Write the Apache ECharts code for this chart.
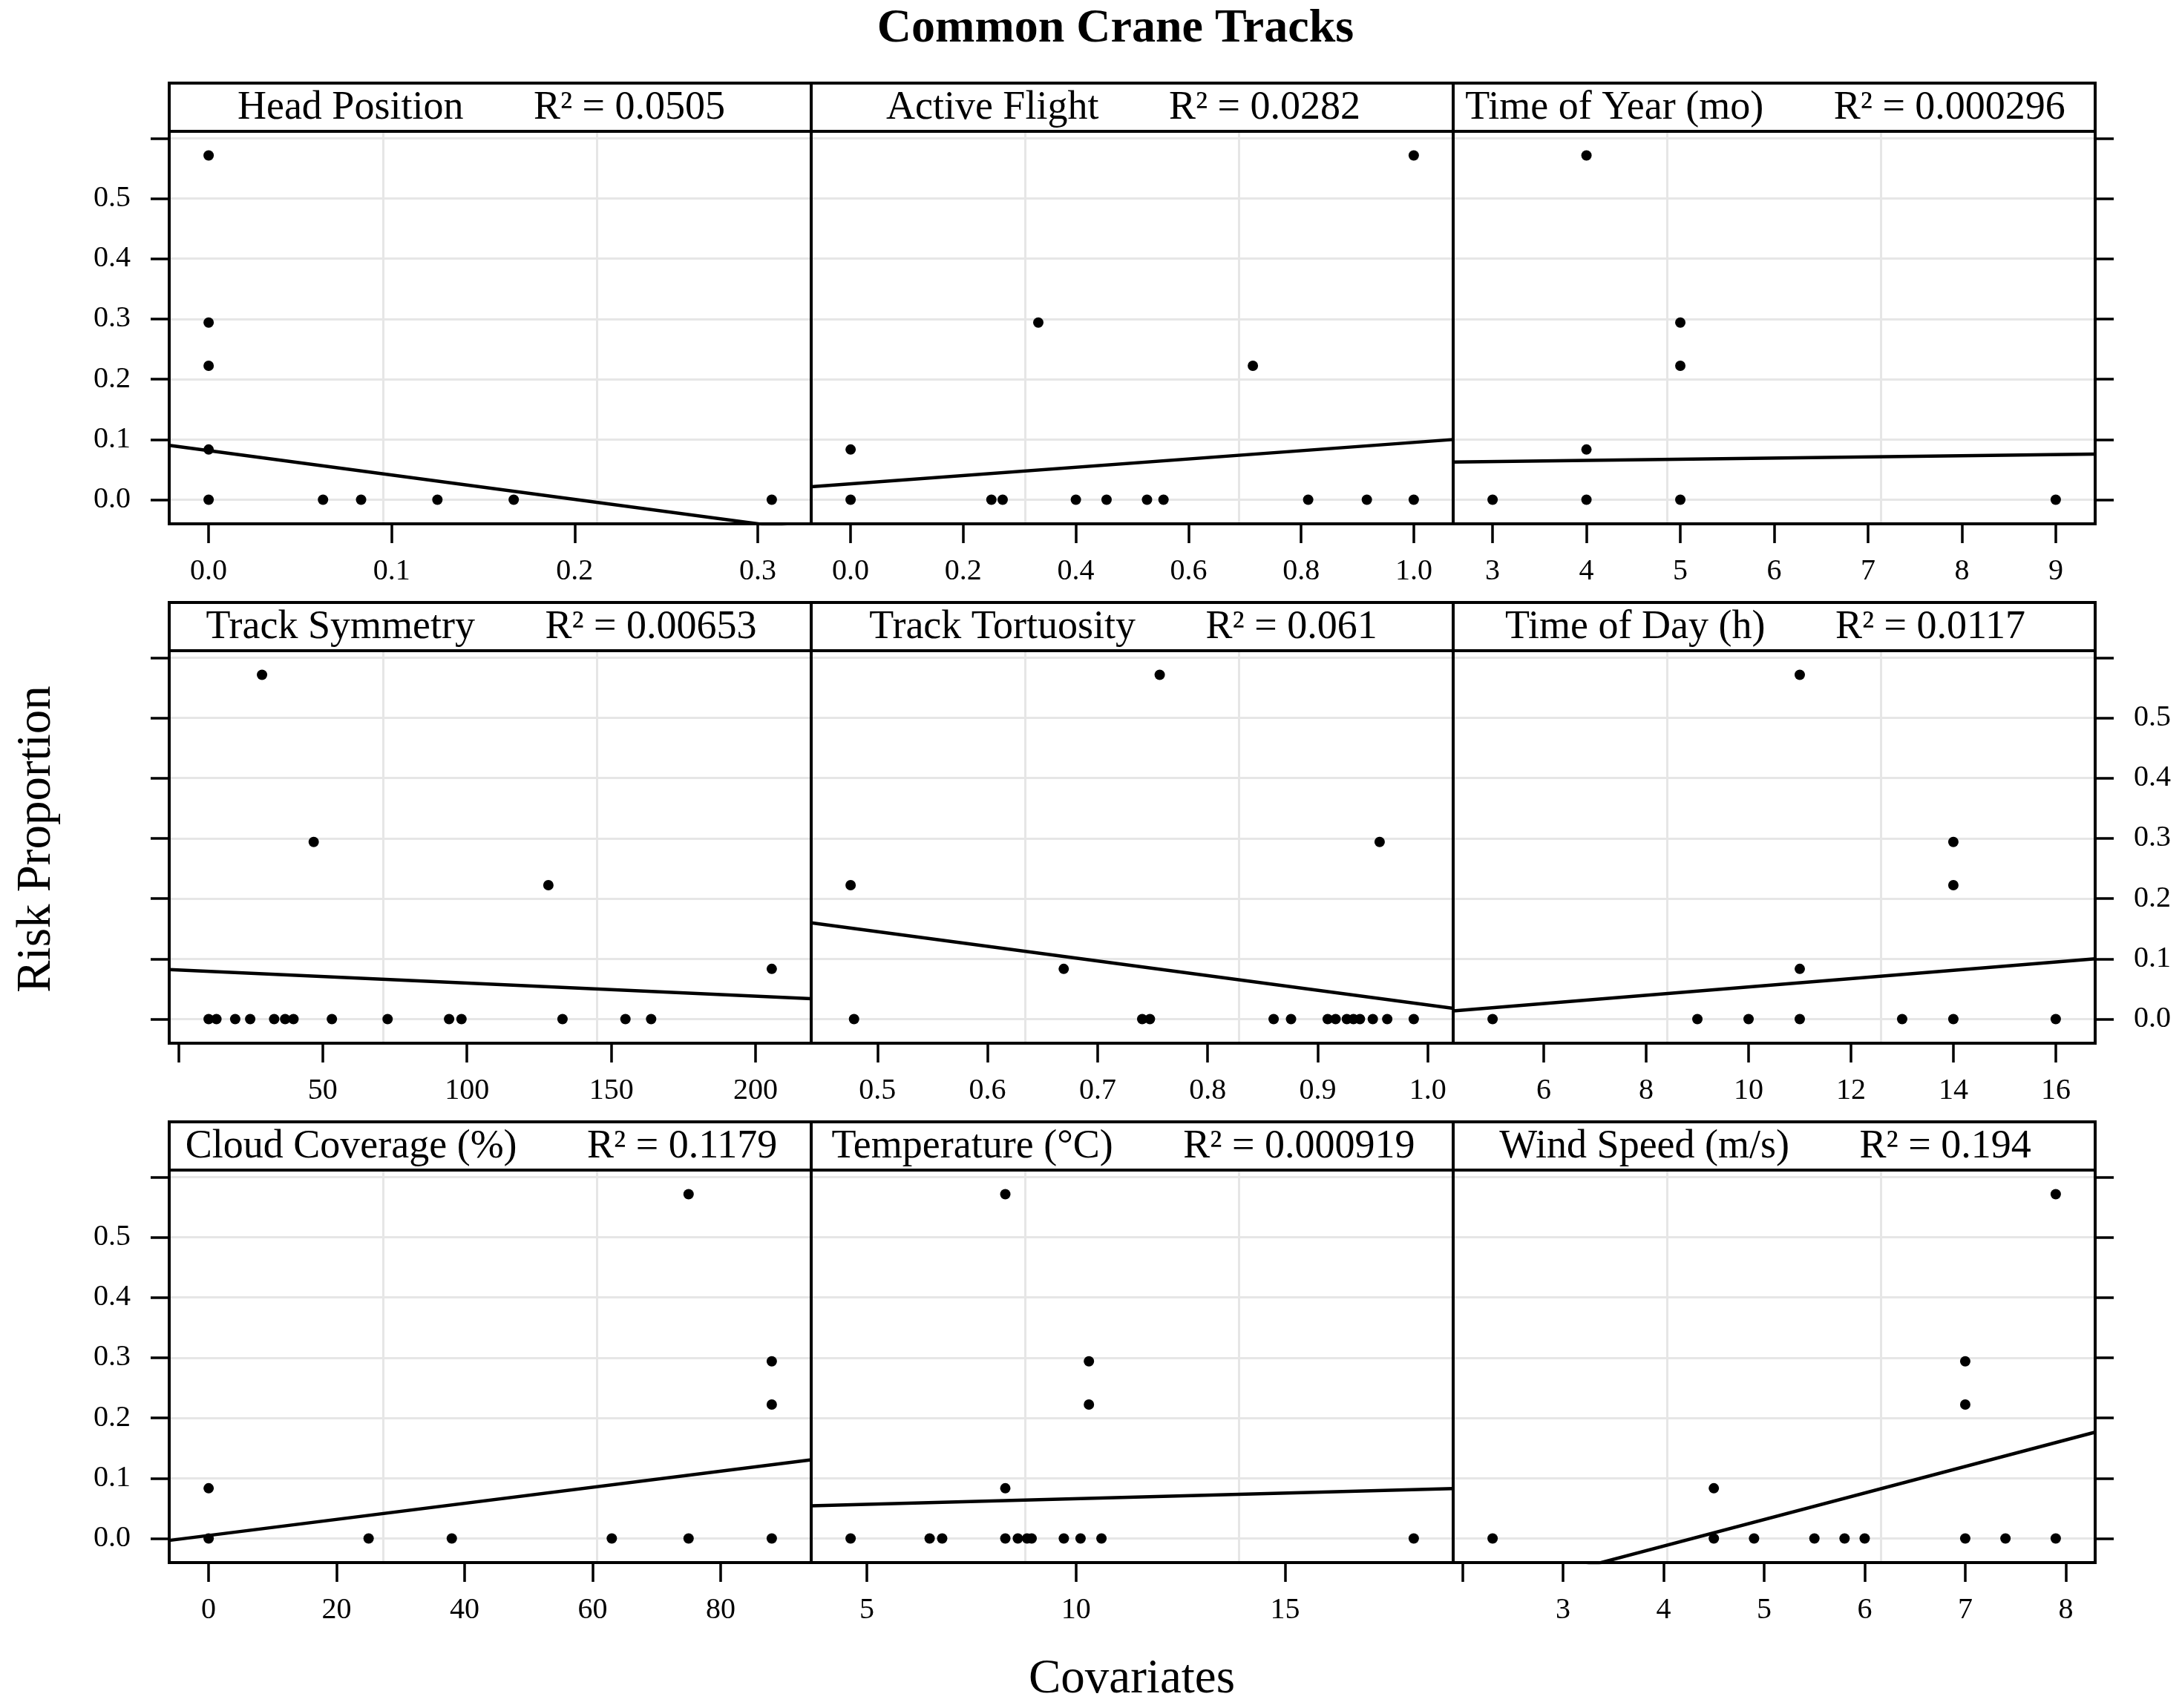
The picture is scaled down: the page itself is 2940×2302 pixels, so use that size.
<!DOCTYPE html>
<html>
<head>
<meta charset="utf-8">
<script src="https://cdn.jsdelivr.net/npm/echarts@6/dist/echarts.min.js"></script>
<style>html,body{margin:0;padding:0;background:#fff}#c{width:2940px;height:2302px}</style>
</head>
<body>
<div id="c"></div>
<script>
// ---------------- DATA ----------------
const chartTitle = 'Common Crane Tracks';
const yAxisTitle = 'Risk Proportion';
const xAxisTitle = 'Covariates';

const panelTitles = ['Head Position', 'Active Flight', 'Time of Year (mo)',
  'Track Symmetry', 'Track Tortuosity', 'Time of Day (h)',
  'Cloud Coverage (%)', 'Temperature (°C)', 'Wind Speed (m/s)'];
const rSquaredText = ['0.0505', '0.0282', '0.000296', '0.00653', '0.061', '0.0117', '0.1179', '0.000919', '0.194'];

const headPositionX = [0, 0, 0, 0, 0, 0.0625, 0.0833, 0.125, 0.1667, 0.3077];
const headPositionY = [0.5714, 0.2941, 0.2222, 0.0833, 0, 0, 0, 0, 0, 0];

const activeFlightX = [1.0, 0.3333, 0.7143, 0, 0, 0.25, 0.27, 0.4, 0.4545, 0.5263, 0.5556, 0.8125, 0.9167, 1.0];
const activeFlightY = [0.5714, 0.2941, 0.2222, 0.0833, 0, 0, 0, 0, 0, 0, 0, 0, 0, 0];

const timeOfYearX = [4, 5, 5, 4, 3, 4, 5, 9];
const timeOfYearY = [0.5714, 0.2941, 0.2222, 0.0833, 0, 0, 0, 0];

const trackSymmetryX = [29.0, 46.9, 128.2, 205.6, 10.5, 13.2, 19.7, 24.9, 33.2, 37.0, 39.9, 53.2, 72.5, 93.8, 98.1, 133.1, 154.9, 163.8];
const trackSymmetryY = [0.5714, 0.2941, 0.2222, 0.0833, 0, 0, 0, 0, 0, 0, 0, 0, 0, 0, 0, 0, 0, 0];

const trackTortuosityX = [0.7564, 0.9562, 0.4756, 0.6692, 0.4787, 0.7405, 0.7475, 0.8599, 0.8757, 0.909, 0.9162, 0.9264, 0.9324, 0.9383, 0.95, 0.9631, 0.9872];
const trackTortuosityY = [0.5714, 0.2941, 0.2222, 0.0833, 0, 0, 0, 0, 0, 0, 0, 0, 0, 0, 0, 0, 0];

const timeOfDayX = [11, 14, 14, 11, 5, 9, 10, 11, 13, 14, 16];
const timeOfDayY = [0.5714, 0.2941, 0.2222, 0.0833, 0, 0, 0, 0, 0, 0, 0];

const cloudCoverageX = [75, 88, 88, 0, 0, 25, 38, 63, 75, 88];
const cloudCoverageY = [0.5714, 0.2941, 0.2222, 0.0833, 0, 0, 0, 0, 0, 0];

const temperatureX = [8.31, 10.31, 10.31, 8.31, 4.61, 6.5, 6.8, 8.31, 8.61, 8.83, 8.94, 9.71, 10.11, 10.61, 18.08];
const temperatureY = [0.5714, 0.2941, 0.2222, 0.0833, 0, 0, 0, 0, 0, 0, 0, 0, 0, 0, 0];

const windSpeedX = [7.9, 7, 7, 4.5, 2.3, 4.5, 4.9, 5.5, 5.8, 6.0, 7.0, 7.4, 7.9];
const windSpeedY = [0.5714, 0.2941, 0.2222, 0.0833, 0, 0, 0, 0, 0, 0, 0, 0, 0];

// fitted regression lines
const fitIntercept = [0.0816, 0.0263, 0.0576, 0.0816, 0.2669, -0.0157, 0.0050, 0.0473, -0.1888];
const fitSlope = [-0.405, 0.0688, 0.00194, -0.000218, -0.2435, 0.0069, 0.001334, 0.001865, 0.04404];

// tick values and labelled ticks
const yTicks = [0, 0.1, 0.2, 0.3, 0.4, 0.5, 0.6];
const yTickLabels = [0, 0.1, 0.2, 0.3, 0.4, 0.5];
const headPositionTicks = [0, 0.1, 0.2, 0.3];
const activeFlightTicks = [0, 0.2, 0.4, 0.6, 0.8, 1.0];
const timeOfYearTicks = [3, 4, 5, 6, 7, 8, 9];
const trackSymmetryTicks = [0, 50, 100, 150, 200];
const trackSymmetryLabels = [50, 100, 150, 200];
const trackTortuosityTicks = [0.5, 0.6, 0.7, 0.8, 0.9, 1.0];
const timeOfDayTicks = [6, 8, 10, 12, 14, 16];
const cloudCoverageTicks = [0, 20, 40, 60, 80];
const temperatureTicks = [5, 10, 15];
const windSpeedTicks = [2, 3, 4, 5, 6, 7, 8];
const windSpeedLabels = [3, 4, 5, 6, 7, 8];

// ---------------- BUILD ----------------
const panelX = [headPositionX, activeFlightX, timeOfYearX, trackSymmetryX, trackTortuosityX, timeOfDayX, cloudCoverageX, temperatureX, windSpeedX];
const panelY = [headPositionY, activeFlightY, timeOfYearY, trackSymmetryY, trackTortuosityY, timeOfDayY, cloudCoverageY, temperatureY, windSpeedY];
const panelTicks = [headPositionTicks, activeFlightTicks, timeOfYearTicks, trackSymmetryTicks, trackTortuosityTicks, timeOfDayTicks, cloudCoverageTicks, temperatureTicks, windSpeedTicks];
const panelLabels = [headPositionTicks, activeFlightTicks, timeOfYearTicks, trackSymmetryLabels, trackTortuosityTicks, timeOfDayTicks, cloudCoverageTicks, temperatureTicks, windSpeedLabels];
const labelDecimals = [1, 1, 0, 0, 1, 0, 0, 0, 0];

const FONT = '"Liberation Serif", "Times New Roman", serif';
const colLeft = [228, 1093, 1958];
const stripTop = [112, 812, 1512];
const PW = 865, SH = 65, PH = 529;

function padRange(arr) {
  const lo = Math.min.apply(null, arr), hi = Math.max.apply(null, arr);
  const p = (hi - lo) * 0.07;
  return [lo - p, hi + p];
}
const allY = [].concat.apply([], panelY);
const yRange = padRange(allY);

const grids = [], xAxes = [], yAxes = [], series = [], graphics = [];
for (let i = 0; i < 9; i++) {
  const row = Math.floor(i / 3), col = i % 3;
  const left = colLeft[col], top = stripTop[row] + SH;
  grids.push({left: left, top: top, width: PW, height: PH, show: false, containLabel: false});
  const xr = padRange(panelX[i]);
  const dec = labelDecimals[i];
  const ticks = panelTicks[i];
  // main x axis
  xAxes.push({
    type: 'value', gridIndex: i, position: 'bottom', min: xr[0], max: xr[1],
    axisLine: {show: false, onZero: false},
    axisTick: {show: true, inside: false, length: 26, lineStyle: {color: '#000', width: 3.5}, customValues: ticks},
    axisLabel: {show: true, inside: false, customValues: panelLabels[i], margin: 44, color: '#000',
      fontFamily: FONT, fontSize: 40, formatter: v => Number(v).toFixed(dec)},
    splitLine: {show: false}
  });
  // vertical grid lines at thirds
  xAxes.push({
    type: 'value', gridIndex: i, position: 'top', min: 0, max: 3, interval: 1,
    axisLine: {show: false, onZero: false}, axisTick: {show: false}, axisLabel: {show: false},
    splitLine: {show: true, lineStyle: {color: '#e6e6e6', width: 3}}
  });
  // left y axis
  yAxes.push({
    type: 'value', gridIndex: i, position: 'left', min: yRange[0], max: yRange[1],
    axisLine: {show: false, onZero: false},
    axisTick: {show: col === 0, inside: false, length: 25, lineStyle: {color: '#000', width: 3.5}, customValues: yTicks},
    axisLabel: {show: col === 0 && row !== 1, inside: false, customValues: yTickLabels, margin: 52, color: '#000',
      fontFamily: FONT, fontSize: 40, formatter: v => Number(v).toFixed(1)},
    splitLine: {show: true, lineStyle: {color: '#e6e6e6', width: 3}}
  });
  // right y axis
  yAxes.push({
    type: 'value', gridIndex: i, position: 'right', min: yRange[0], max: yRange[1],
    axisLine: {show: false, onZero: false},
    axisTick: {show: col === 2, inside: false, length: 25, lineStyle: {color: '#000', width: 3.5}, customValues: yTicks},
    axisLabel: {show: col === 2 && row === 1, inside: false, customValues: yTickLabels, margin: 52, color: '#000',
      fontFamily: FONT, fontSize: 40, formatter: v => Number(v).toFixed(1)},
    splitLine: {show: false}
  });
  const pts = panelX[i].map((x, k) => [x, panelY[i][k]]);
  series.push({
    type: 'scatter', xAxisIndex: 2 * i, yAxisIndex: 2 * i, data: pts,
    symbol: 'circle', symbolSize: 14, itemStyle: {color: '#000', opacity: 1}, silent: true, z: 3
  });
  series.push({
    type: 'line', xAxisIndex: 2 * i, yAxisIndex: 2 * i, clip: true,
    data: [[xr[0], fitIntercept[i] + fitSlope[i] * xr[0]], [xr[1], fitIntercept[i] + fitSlope[i] * xr[1]]],
    symbol: 'none', lineStyle: {color: '#000', width: 4.5, opacity: 1}, silent: true, z: 4
  });
  // strip
  graphics.push({type: 'rect', shape: {x: left, y: stripTop[row], width: PW, height: SH},
    style: {fill: '#fff', stroke: '#000', lineWidth: 4}, z: 50});
  graphics.push({type: 'text', x: left + PW / 2 - 12, y: stripTop[row] + SH / 2 + 1, z: 51,
    style: {text: panelTitles[i] + '       R\u00b2 = ' + rSquaredText[i], fill: '#000',
      font: '54px ' + FONT, textAlign: 'center', textVerticalAlign: 'middle'}});
  // panel border
  graphics.push({type: 'rect', shape: {x: left, y: top, width: PW, height: PH},
    style: {fill: 'none', stroke: '#000', lineWidth: 4}, z: 50});
}
graphics.push({type: 'text', x: 1503, y: 39, z: 51,
  style: {text: chartTitle, fill: '#000', font: 'bold 64px ' + FONT, textAlign: 'center', textVerticalAlign: 'middle'}});
graphics.push({type: 'text', x: 50, y: 1131, rotation: Math.PI / 2, z: 51,
  style: {text: yAxisTitle, fill: '#000', font: '65px ' + FONT, textAlign: 'center', textVerticalAlign: 'middle'}});
graphics.push({type: 'text', x: 1525, y: 2264, z: 51,
  style: {text: xAxisTitle, fill: '#000', font: '65px ' + FONT, textAlign: 'center', textVerticalAlign: 'middle'}});

const chart = echarts.init(document.getElementById('c'), null, {renderer: 'canvas'});
chart.setOption({
  animation: false,
  backgroundColor: '#fff',
  grid: grids, xAxis: xAxes, yAxis: yAxes, series: series,
  graphic: {elements: graphics}
});
</script>
</body>
</html>
